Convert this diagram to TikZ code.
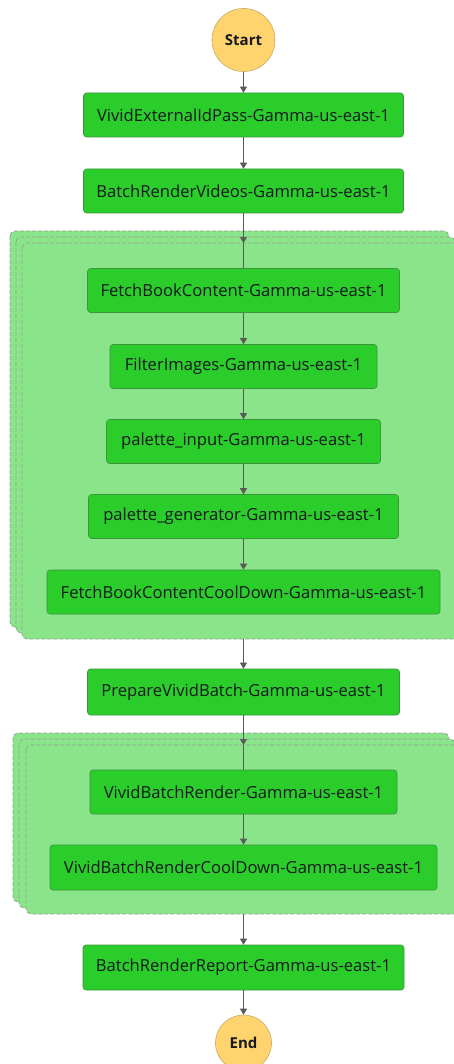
\documentclass[tikz,border=0pt]{standalone}
\usepackage{fontspec}
\setmainfont{Open Sans}
\usetikzlibrary{arrows.meta}
\definecolor{taskfill}{RGB}{43,205,43}
\definecolor{taskline}{RGB}{58,150,58}
\definecolor{mapfill}{RGB}{138,228,138}
\definecolor{mapline}{RGB}{150,160,150}
\definecolor{termfill}{RGB}{255,211,110}
\definecolor{termline}{RGB}{200,170,100}
\definecolor{flow}{RGB}{90,90,90}
\definecolor{ink}{RGB}{22,25,31}
\tikzset{
  task/.style={draw=taskline, fill=taskfill, line width=0.6pt, rounded corners=3pt,
    minimum height=44pt, inner sep=0pt, text=ink, font=\fontsize{16.6}{20}\selectfont},
  term/.style={circle, draw=termline, fill=termfill, line width=0.6pt, inner sep=0pt,
    text=ink, font=\fontsize{15}{18}\selectfont\bfseries},
  maplayer/.style={draw=mapline, fill=mapfill, dashed, dash pattern=on 4pt off 2pt,
    line width=0.7pt, rounded corners=5pt},
  flowarrow/.style={draw=flow, line width=0.7pt, -{Triangle[width=7pt,length=6pt]}},
  flowline/.style={draw=flow, line width=0.7pt}
}
\begin{document}
\begin{tikzpicture}[x=1pt,y=-1pt]
\useasboundingbox (0,0) rectangle (454,1064);
\clip (0,0) rectangle (454,1064);

% start and first two tasks
\node[term, minimum size=63pt] (start) at (243.5,40) {Start};
\node[task, minimum width=320pt] (idpass) at (243.5,115) {VividExternalIdPass-Gamma-us-east-1};
\node[task, minimum width=320pt] (batch) at (243.5,191) {BatchRenderVideos-Gamma-us-east-1};

% first map state: three stacked iteration layers
\draw[maplayer] (10,231) rectangle (449,627);
\draw[maplayer] (16,237) rectangle (455,633);
\draw[maplayer] (22,243) rectangle (461,639);
\coordinate (m1top) at (243.5,243);
\coordinate (m1bot) at (243.5,639);

\node[task, minimum width=312pt] (fetch) at (243.5,290.5) {FetchBookContent-Gamma-us-east-1};
\node[task, minimum width=267pt] (filter) at (243.5,366.5) {FilterImages-Gamma-us-east-1};
\node[task, minimum width=274pt] (pinput) at (243.5,441.5) {palette\_input-Gamma-us-east-1};
\node[task, minimum width=310pt] (pgen) at (243.5,516.5) {palette\_generator-Gamma-us-east-1};
\node[task, minimum width=393pt] (fcool) at (243.5,592) {FetchBookContentCoolDown-Gamma-us-east-1};

\node[task, minimum width=312pt, minimum height=46pt] (prep) at (243.5,692) {PrepareVividBatch-Gamma-us-east-1};

% second map state
\draw[maplayer] (13,733) rectangle (449,902);
\draw[maplayer] (19,739) rectangle (455,908);
\draw[maplayer] (26,745) rectangle (461,914);
\coordinate (m2top) at (243.5,745);
\coordinate (m2bot) at (243.5,914);

\node[task, minimum width=307pt] (vrender) at (243.5,792) {VividBatchRender-Gamma-us-east-1};
\node[task, minimum width=387pt, minimum height=45pt] (vcool) at (243.5,867.5) {VividBatchRenderCoolDown-Gamma-us-east-1};

\node[task, minimum width=321pt, minimum height=45pt] (report) at (243.5,967.5) {BatchRenderReport-Gamma-us-east-1};
\node[term, minimum size=56pt] (end) at (243.5,1043) {End};

% transitions
\draw[flowarrow] (start) -- (idpass);
\draw[flowarrow] (idpass) -- (batch);
\draw[flowarrow] (batch) -- (m1top);
\draw[flowline] (m1top) -- (fetch);
\draw[flowarrow] (fetch) -- (filter);
\draw[flowarrow] (filter) -- (pinput);
\draw[flowarrow] (pinput) -- (pgen);
\draw[flowarrow] (pgen) -- (fcool);
\draw[flowarrow] (m1bot) -- (prep);
\draw[flowarrow] (prep) -- (m2top);
\draw[flowline] (m2top) -- (vrender);
\draw[flowarrow] (vrender) -- (vcool);
\draw[flowarrow] (m2bot) -- (report);
\draw[flowarrow] (report) -- (end);
\end{tikzpicture}
\end{document}
